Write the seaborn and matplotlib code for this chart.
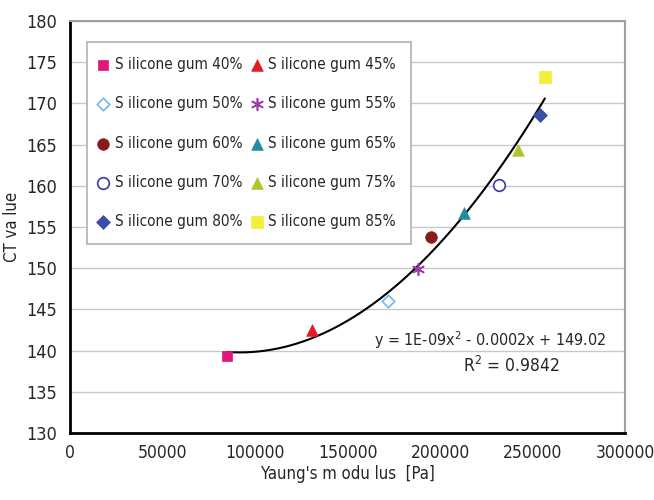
import numpy as np
import pandas as pd
import seaborn as sns
import matplotlib.pyplot as plt

labels = ['S ilicone gum 40%', 'S ilicone gum 45%', 'S ilicone gum 50%', 'S ilicone gum 55%',
          'S ilicone gum 60%', 'S ilicone gum 65%', 'S ilicone gum 70%', 'S ilicone gum 75%',
          'S ilicone gum 80%', 'S ilicone gum 85%']
modulus = [85000, 130800, 172000, 187900, 195100, 213100, 231900, 242000, 254000, 256700]
ct_value = [139.4, 142.5, 146.0, 149.9, 153.8, 156.7, 160.1, 164.4, 168.6, 173.2]

colors = ['#e0187c', '#e01b24', '#6fb8ee', '#9b3fa6', '#8b1a1a',
          '#1f8ca6', '#3d3aa0', '#a8c82a', '#3a4ea6', '#f2ef3a']
markers = ['s', '^', 'D', (6, 2, 0), 'o', '^', 'o', '^', 'D', 's']
sizes = [60, 70, 40, 70, 70, 70, 70, 70, 50, 70]
hollow = [False, False, True, False, False, False, True, False, False, False]

df = pd.DataFrame({'label': labels, 'modulus': modulus, 'ct': ct_value})

sns.set_style('white')
plt.rcParams['font.family'] = ['DejaVu Sans']
plt.rcParams['font.stretch'] = 'condensed'

fig = plt.figure(figsize=(6.54, 5), dpi=100)
ax = fig.add_axes([70 / 654, 1 - 433 / 500, 555 / 654, 412 / 500])

# horizontal grid
for v in range(135, 181, 5):
    ax.axhline(v, color='#c8c8c8', lw=1, zorder=0)

# second-order trend line like the Excel one
coef = np.polyfit(df['modulus'], df['ct'], 2)
xs = np.linspace(df['modulus'].min(), df['modulus'].max(), 200)
ax.plot(xs, np.polyval(coef, xs), color='black', lw=1.5, zorder=2)

for i, row in df.iterrows():
    if hollow[i]:
        ax.scatter(row['modulus'], row['ct'], marker=markers[i], s=sizes[i],
                   facecolors='white', edgecolors=colors[i], linewidths=1.2,
                   label=row['label'], zorder=3)
    elif markers[i] == (6, 2, 0):
        ax.scatter(row['modulus'], row['ct'], marker=markers[i], s=sizes[i],
                   color=colors[i], linewidths=1.2, label=row['label'], zorder=3)
    else:
        sns.scatterplot(x=[row['modulus']], y=[row['ct']], marker=markers[i], s=sizes[i],
                        color=colors[i], edgecolor=colors[i], linewidth=0.5,
                        label=row['label'], ax=ax, zorder=3)

ax.set_xlim(0, 300000)
ax.set_ylim(130, 180)
ax.set_xticks(range(0, 300001, 50000))
ax.set_yticks(range(130, 181, 5))
ax.tick_params(axis='x', direction='in', length=5, width=1.5, labelsize=12.5, pad=8)
ax.tick_params(axis='y', direction='out', length=5, width=1.5, labelsize=13, pad=4)
ax.set_xlabel("Yaung's m odu lus  [Pa]", fontsize=12, labelpad=2)
ax.set_ylabel('CT va lue', fontsize=12, labelpad=4)

for side in ['left', 'bottom']:
    ax.spines[side].set_color('black')
    ax.spines[side].set_linewidth(2)
for side in ['top', 'right']:
    ax.spines[side].set_color('#a0a0a0')
    ax.spines[side].set_linewidth(1.5)

ax.text(0.757, 0.225, 'y = 1E-09x$^2$ - 0.0002x + 149.02', transform=ax.transAxes,
        ha='center', va='center', fontsize=11.5)
ax.text(0.795, 0.163, 'R$^2$ = 0.9842', transform=ax.transAxes,
        ha='center', va='center', fontsize=12.5)

# legend is filled row by row in the reference
handles, texts = ax.get_legend_handles_labels()
order = [0, 2, 4, 6, 8, 1, 3, 5, 7, 9]
leg = ax.legend([handles[k] for k in order], [texts[k] for k in order],
                ncol=2, loc='upper left', bbox_to_anchor=(0.031, 0.949),
                borderaxespad=0,
                fontsize=11, frameon=True, fancybox=False, edgecolor='#b0b0b0',
                handletextpad=0.7, handlelength=0.1, columnspacing=0.9,
                labelspacing=1.58, borderpad=1.0, framealpha=1)
leg.get_frame().set_linewidth(1.2)
leg.set_zorder(5)

fig.savefig('out.png', dpi=100)
